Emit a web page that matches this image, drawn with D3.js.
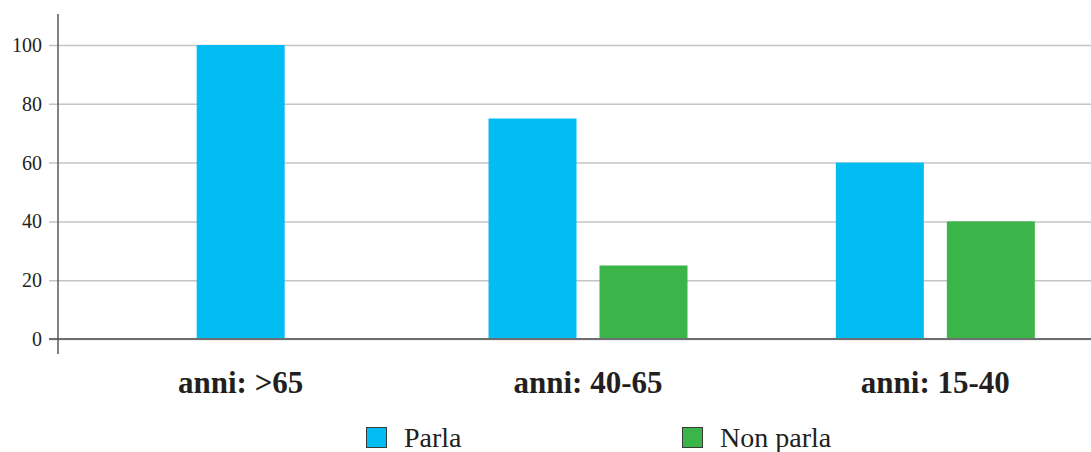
<!DOCTYPE html>
<html>
<head>
<meta charset="utf-8">
<script src="https://cdn.jsdelivr.net/npm/d3@7/dist/d3.min.js"></script>
<style>
  html, body { margin: 0; padding: 0; background: #fff; }
  svg { display: block; }
</style>
</head>
<body>
<svg id="chart" width="1091" height="452" font-family="Liberation Serif"></svg>
<script>
// Age groups and share of people who speak / do not speak the language (%)
const categories = ["anni: >65", "anni: 40-65", "anni: 15-40"];
const seriesNames = ["Parla", "Non parla"];
const parla = [100, 75, 60];
const nonParla = [null, 25, 40];
const yTicks = [0, 20, 40, 60, 80, 100];
const colors = ["#02bdf2", "#3bb54a"];

const seriesValues = [parla, nonParla];
const FONT = "Liberation Serif";
const INK = "#231f20";

const svg = d3.select("#chart");

const y = d3.scaleLinear().domain([0, 100]).range([339, 45]);
const x = d3.scaleBand().domain(categories).range([67, 1109]).padding(0);

const axisX = 58;
const barW = 88, barGap = 23;

// gridlines with short ticks left of the axis
svg.append("g")
  .attr("transform", `translate(${axisX},0)`)
  .call(d3.axisLeft(y).tickValues(yTicks).tickSize(-(1091 - axisX)).tickFormat(""))
  .call(g => g.select(".domain").remove())
  .call(g => g.selectAll(".tick line")
    .attr("x1", -9)
    .attr("stroke", "#c4c4c6")
    .attr("stroke-width", 1.5));

// tick labels
svg.append("g").selectAll("text")
  .data(yTicks)
  .join("text")
  .attr("x", 42)
  .attr("y", d => y(d))
  .attr("dy", "0.35em")
  .attr("text-anchor", "end")
  .attr("font-family", FONT)
  .attr("font-size", 20)
  .attr("fill", INK)
  .text(d => d);

// bars: only the series with a value are laid out inside each group
categories.forEach((cat, i) => {
  const present = seriesNames
    .map((s, k) => ({ s, k, v: seriesValues[k][i] }))
    .filter(d => d.v !== null && d.v !== undefined);
  const total = present.length * barW + (present.length - 1) * barGap;
  const start = x(cat) + x.bandwidth() / 2 - total / 2;
  svg.append("g").selectAll("rect")
    .data(present)
    .join("rect")
    .attr("x", (d, j) => start + j * (barW + barGap))
    .attr("y", d => y(d.v))
    .attr("width", barW)
    .attr("height", d => y(0) - y(d.v))
    .attr("fill", d => colors[d.k]);
});

// zero baseline
svg.append("line")
  .attr("x1", 49).attr("x2", 1091)
  .attr("y1", y(0)).attr("y2", y(0))
  .attr("stroke", "#6d6e70").attr("stroke-width", 2);

// vertical axis
svg.append("line")
  .attr("x1", axisX).attr("x2", axisX)
  .attr("y1", 14).attr("y2", 354)
  .attr("stroke", "#58595b").attr("stroke-width", 1.5);

// category labels
svg.append("g").selectAll("text")
  .data(categories)
  .join("text")
  .attr("x", d => x(d) + x.bandwidth() / 2)
  .attr("y", 393)
  .attr("text-anchor", "middle")
  .attr("font-family", FONT)
  .attr("font-size", 31)
  .attr("font-weight", "bold")
  .attr("fill", INK)
  .text(d => d);

// legend
const legendX = [366, 682];
const lg = svg.append("g").selectAll("g")
  .data(seriesNames)
  .join("g")
  .attr("transform", (d, i) => `translate(${legendX[i]},427)`);
lg.append("rect")
  .attr("x", 0.5).attr("y", 0.5)
  .attr("width", 20).attr("height", 20)
  .attr("fill", (d, i) => colors[i])
  .attr("stroke", "#3a3a3a").attr("stroke-width", 1);
lg.append("text")
  .attr("x", 38)
  .attr("y", 19.5)
  .attr("font-family", FONT)
  .attr("font-size", 28)
  .attr("fill", INK)
  .text(d => d);
</script>
</body>
</html>
